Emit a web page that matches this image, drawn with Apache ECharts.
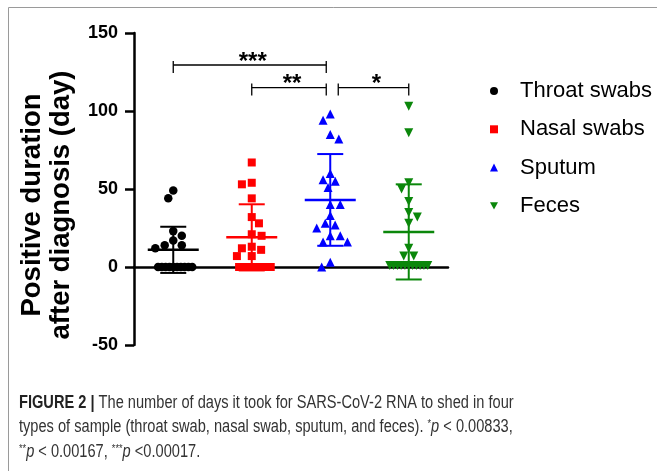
<!DOCTYPE html>
<html>
<head>
<meta charset="utf-8">
<script src="https://cdn.jsdelivr.net/npm/echarts@6/dist/echarts.min.js"></script>
<style>
html,body{margin:0;padding:0;background:#fff;}
#c{width:657px;height:471px;}
</style>
</head>
<body>
<div id="c"></div>
<script>
// ---- data ----
const categories = ['Throat swabs', 'Nasal swabs', 'Sputum', 'Feces'];
const throat = [49, 44, 23, 20, 17, 14, 14, 12, 0, 0, 0, 0, 0, 0, 0, 0, 0, 0];
const nasal = [67, 54, 53, 44, 32, 28, 21, 20, 13, 12, 11, 7, 7, 0, 0, 0, 0, 0, 0];
const sputum = [98, 94, 85, 82, 60, 56, 55, 51, 40, 40, 33, 28, 27, 25, 20, 20, 16, 16, 3, 0];
const feces = [103, 86, 54, 50, 42, 35, 32, 28, 12, 7, 7, 1, 1, 1, 1, 1, 1, 1, 1, 1, 1, 1];
const means = [11, 19, 43, 22.5];
const sds = [14.8, 21.2, 29.4, 30.5];
const yMin = -50, yMax = 150, yInterval = 50;
const brackets = [
  { from: 0, to: 2, level: 129.5, label: '***' },
  { from: 1, to: 2, level: 115, label: '**' },
  { from: 2, to: 3, level: 115, label: '*' }
];
const captionLines = [
  '{b|FIGURE 2 |} The number of days it took for SARS-CoV-2 RNA to shed in four',
  'types of sample (throat swab, nasal swab, sputum, and feces). {s|*}{i|p} < 0.00833,',
  '{s|**}{i|p} < 0.00167, {s|***}{i|p} <0.00017.'
];
const yAxisTitle = 'Positive duration\nafter diagnosis (day)';

// ---- styles ----
const groups = [throat, nasal, sputum, feces];
const colors = ['#000000', '#ff0000', '#0000ff', '#0b870b'];
const symbols = ['circle', 'rect', 'triangle', 'path://M0,0L10,0L5,9Z'];
const symSizes = [8.5, 8, 9, 9];
const FONT = 'Liberation Sans, Arial, sans-serif';

const chart = echarts.init(document.getElementById('c'), null, { renderer: 'canvas' });

function scatterSeries(offsets) {
  return groups.map((g, gi) => ({
    id: 's' + gi,
    name: categories[gi],
    type: 'scatter',
    symbol: symbols[gi],
    symbolSize: symSizes[gi],
    itemStyle: { color: colors[gi], opacity: 1 },
    z: 3,
    data: g.map((v, i) => ({
      value: [gi, v],
      symbolOffset: [offsets ? offsets[gi][i] : 0, 0]
    }))
  }));
}

const option = {
  backgroundColor: '#ffffff',
  animation: false,
  grid: { left: 134, top: 33, right: 209, bottom: 126, containLabel: false },
  xAxis: {
    type: 'category',
    data: categories,
    boundaryGap: true,
    axisLine: { lineStyle: { color: '#000', width: 2.5 } },
    axisTick: { alignWithLabel: true, length: 12, lineStyle: { color: '#000', width: 2.5 } },
    axisLabel: { show: false },
    splitLine: { show: false }
  },
  yAxis: {
    type: 'value',
    min: yMin, max: yMax, interval: yInterval,
    axisLine: { show: true, lineStyle: { color: '#000', width: 2.5 } },
    axisTick: { show: true, length: 9, lineStyle: { color: '#000', width: 2.5 } },
    axisLabel: { color: '#000', fontWeight: 'bold', fontSize: 18, fontFamily: FONT, margin: 16 },
    splitLine: { show: false }
  },
  legend: {
    orient: 'vertical',
    left: 485, top: 75,
    itemWidth: 8, itemHeight: 8,
    itemGap: 16.3,
    data: categories,
    textStyle: { color: '#000', fontSize: 22, fontFamily: FONT, lineHeight: 22, padding: [0, 0, 0, 17] }
  },
  graphic: [
    {
      type: 'rect', silent: true,
      shape: { x: 8.5, y: 7.5, width: 700, height: 480 },
      style: { fill: null, stroke: '#9a9a9a', lineWidth: 1 }
    },
    {
      type: 'text', x: 47, y: 205, rotation: Math.PI / 2,
      style: {
        text: yAxisTitle, font: 'bold 27.5px ' + FONT, fill: '#000',
        textAlign: 'center', textVerticalAlign: 'middle', lineHeight: 29
      }
    }
  ].concat(captionLines.map((t, i) => ({
    type: 'text', x: 19, y: 403 + i * 24.5, scaleX: 0.835,
    style: {
      text: t, font: '17.5px ' + FONT, fill: '#333',
      textVerticalAlign: 'middle',
      rich: {
        b: { fontWeight: 'bold', fontSize: 17.5, fontFamily: FONT, fill: '#222' },
        i: { fontStyle: 'italic', fontSize: 17.5, fontFamily: FONT, fill: '#333' },
        s: { fontSize: 11, fontFamily: FONT, fill: '#333', verticalAlign: 'top', padding: [0, 0, 6, 0] }
      }
    }
  }))),
  series: scatterSeries(null).concat([
    {
      id: 'stats',
      type: 'custom',
      z: 4,
      data: means.map((m, i) => [i, m, sds[i]]),
      renderItem: function (params, api) {
        const i = api.value(0), m = api.value(1), sd = api.value(2);
        const c = api.coord([i, m]);
        const top = api.coord([i, m + sd]);
        const bot = api.coord([i, m - sd]);
        const col = colors[i];
        const x = c[0];
        return {
          type: 'group',
          children: [
            { type: 'line', shape: { x1: x - 25.5, y1: c[1], x2: x + 25.5, y2: c[1] }, style: { stroke: col, lineWidth: 2.5 } },
            { type: 'line', shape: { x1: x, y1: top[1], x2: x, y2: bot[1] }, style: { stroke: col, lineWidth: 2 } },
            { type: 'line', shape: { x1: x - 13, y1: top[1], x2: x + 13, y2: top[1] }, style: { stroke: col, lineWidth: 2 } },
            { type: 'line', shape: { x1: x - 13, y1: bot[1], x2: x + 13, y2: bot[1] }, style: { stroke: col, lineWidth: 2 } }
          ]
        };
      }
    },
    {
      id: 'brackets',
      type: 'custom',
      z: 5,
      clip: false,
      data: brackets.map(b => [b.from, b.to, b.level]),
      renderItem: function (params, api) {
        const b = brackets[params.dataIndex];
        const shareStart = brackets.some(o => o !== b && o.to === b.from && o.level === b.level);
        const shareEnd = brackets.some(o => o !== b && (o.from === b.to || o.to === b.to));
        const p0 = api.coord([b.from, b.level]);
        const p1 = api.coord([b.to, b.level]);
        const x0 = p0[0] + (shareStart ? 8 : 0);
        const x1 = p1[0] - (shareEnd ? 4 : 0);
        const y = p0[1];
        const st = { stroke: '#000', lineWidth: 1.3 };
        return {
          type: 'group',
          children: [
            { type: 'line', shape: { x1: x0, y1: y, x2: x1, y2: y }, style: st },
            { type: 'line', shape: { x1: x0, y1: y - 4, x2: x0, y2: y + 8 }, style: st },
            { type: 'line', shape: { x1: x1, y1: y - 4, x2: x1, y2: y + 8 }, style: st },
            {
              type: 'text', x: (x0 + x1) / 2 + 3, y: y - 3,
              style: { text: b.label, font: 'bold 24px ' + FONT, fill: '#000', textAlign: 'center', textVerticalAlign: 'middle' }
            }
          ]
        };
      }
    }
  ])
};

chart.setOption(option);

// beeswarm-style horizontal dodge, computed from the scales' pixel positions
function swarm(values, dx, dy, maxHalf) {
  const placed = [];
  const offs = new Array(values.length).fill(0);
  values.forEach((v, i) => {
    const py = chart.convertToPixel({ yAxisIndex: 0 }, v);
    const ivs = [];
    placed.forEach(p => {
      const d = Math.abs(p.y - py);
      if (d < dy) {
        const w = dx * Math.sqrt(1 - (d / dy) * (d / dy));
        ivs.push([p.x - w, p.x + w]);
      }
    });
    const cands = [0];
    ivs.forEach(iv => { cands.push(iv[0], iv[1]); });
    const ok = cands.filter(x => ivs.every(iv => !(x > iv[0] + 1e-6 && x < iv[1] - 1e-6)));
    const sum = placed.reduce((a, p) => a + p.x, 0);
    ok.sort((a, b) => {
      const d = Math.abs(a) - Math.abs(b);
      if (Math.abs(d) > 1e-6) return d;
      return Math.abs(sum + a) - Math.abs(sum + b) || a - b;
    });
    const x = ok[0];
    placed.push({ x: x, y: py });
    offs[i] = x;
  });
  // compress rows of equal values that are too wide
  const byVal = {};
  values.forEach((v, i) => { (byVal[v] = byVal[v] || []).push(i); });
  Object.keys(byVal).forEach(k => {
    const idx = byVal[k];
    const m = Math.max.apply(null, idx.map(i => Math.abs(offs[i])));
    if (m > maxHalf) idx.forEach(i => { offs[i] = offs[i] * maxHalf / m; });
  });
  return offs;
}

const offsets = groups.map(g => swarm(g, 10, 9, 19));
chart.setOption({ series: scatterSeries(offsets) });
</script>
</body>
</html>
